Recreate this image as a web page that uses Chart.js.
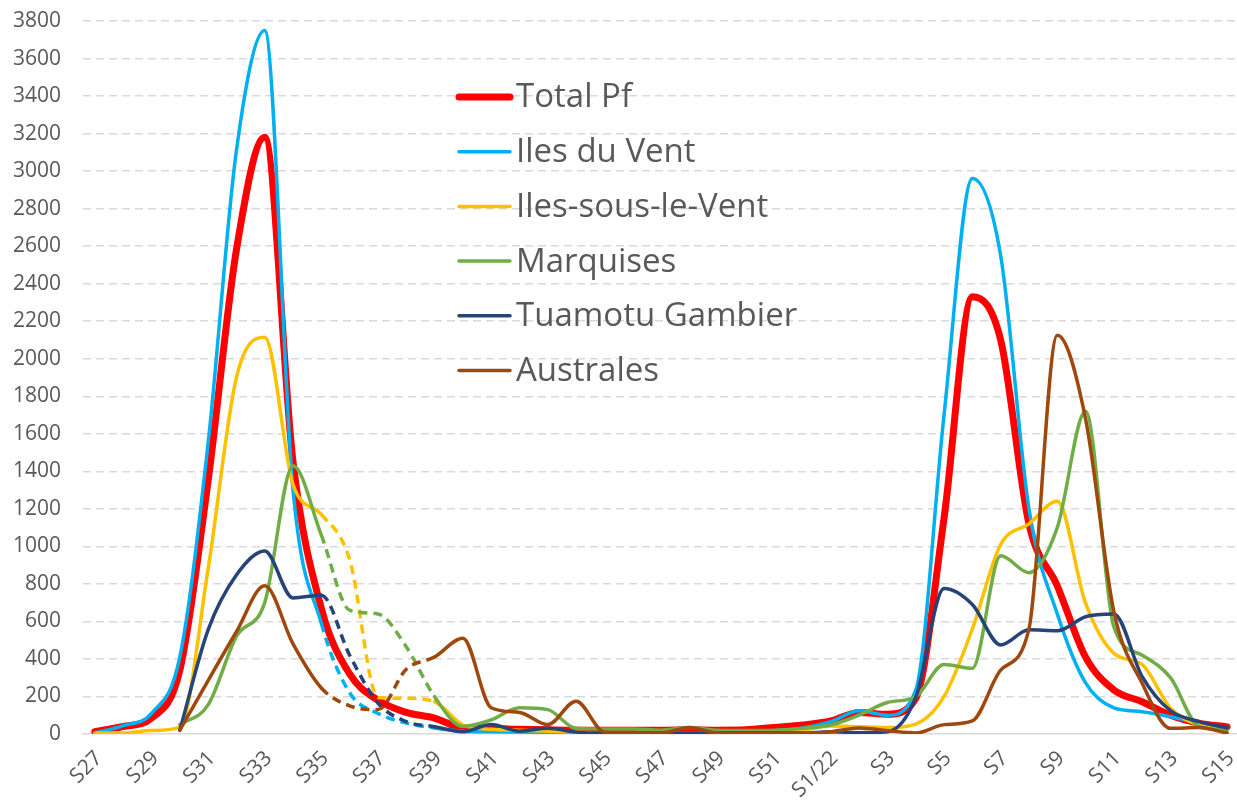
<!DOCTYPE html>
<html>
<head>
<meta charset="utf-8">
<script src="https://cdn.jsdelivr.net/npm/chart.js@4.4.1/dist/chart.umd.min.js"></script>
<style>
  html, body { margin: 0; padding: 0; background: #fff; }
  #wrap { width: 1237px; height: 800px; position: relative; }
</style>
</head>
<body>
<div id="wrap"><canvas id="casesChart"></canvas></div>
<script>
const weeks = ['S27','S28','S29','S30','S31','S32','S33','S34','S35','S36','S37','S38','S39','S40',
  'S41','S42','S43','S44','S45','S46','S47','S48','S49','S50','S51','S52',
  'S1/22','S2','S3','S4','S5','S6','S7','S8','S9','S10','S11','S12','S13','S14','S15'];

const xTickWeeks = ['S27','S29','S31','S33','S35','S37','S39','S41','S43','S45','S47','S49','S51',
  'S1/22','S3','S5','S7','S9','S11','S13','S15'];

const totalPf = [12, 40, 85, 340, 1350, 2580, 3180, 1450, 670, 320, 180, 115, 85, 32,
  30, 25, 22, 20, 20, 20, 20, 22, 20, 22, 35, 48,
  70, 115, 105, 190, 1150, 2330, 2100, 1120, 790, 410, 235, 172, 100, 58, 38];

const ilesDuVent = [5, 45, 110, 410, 1550, 3110, 3750, 1300, 590, 220, 110, 58, 32, 15,
  12, 10, 8, 6, 5, 5, 5, 5, 5, 8, 12, 32,
  66, 124, 100, 234, 1700, 2960, 2550, 1200, 640, 272, 139, 119, 92, 58, 32];

const ilesSousLeVent = [5, 5, 18, 35, 880, 1900, 2115, 1330, 1170, 930, 195, 190, 172, 48,
  25, 20, 15, 10, 5, 5, 5, 5, 5, 5, 10, 20,
  43, 39, 34, 53, 200, 560, 1010, 1120, 1240, 697, 430, 370, 138, 48, 20];

const marquises = [null, null, null, 50, 155, 520, 700, 1430, 1060, 660, 640, 465, 199, 40,
  75, 140, 130, 30, 27, 27, 20, 35, 20, 18, 20, 30,
  48, 101, 168, 199, 370, 350, 950, 860, 1100, 1720, 570, 420, 300, 40, 20];

const tuamotuGambier = [null, null, null, 20, 555, 847, 975, 725, 740, 420, 165, 66, 39, 12,
  50, 15, 30, 10, 5, 5, 5, 5, 5, 5, 5, 5,
  12, 7, 12, 195, 775, 690, 475, 555, 550, 625, 640, 306, 124, 66, 32];

const australes = [null, null, null, 20, 285, 545, 790, 480, 245, 150, 130, 345, 410, 510,
  140, 115, 50, 175, 10, 5, 5, 35, 5, 3, 3, 3,
  12, 32, 18, 5, 50, 70, 340, 560, 2125, 1680, 652, 270, 30, 35, 5];

// weeks S35 -> S39 drawn dashed on the regional series
const dashStart = weeks.indexOf('S35');
const dashEnd = weeks.indexOf('S39');

const toPoints = arr => arr.map((v, i) => ({ x: i, y: v }));
const inDash = ctx => ctx.p0DataIndex >= dashStart && ctx.p1DataIndex <= dashEnd;

function series(label, values, color, width, order, dashed) {
  return {
    label: label,
    data: toPoints(values),
    borderColor: color,
    backgroundColor: color,
    borderWidth: width,
    borderCapStyle: 'round',
    borderJoinStyle: 'round',
    pointRadius: 0,
    cubicInterpolationMode: 'monotone',
    fill: false,
    order: order,
    segment: dashed ? {
      borderDash: ctx => inDash(ctx) ? [9, 6] : undefined,
      borderCapStyle: ctx => inDash(ctx) ? 'butt' : undefined
    } : undefined
  };
}

const insideLegend = {
  id: 'insideLegend',
  afterDraw(chart) {
    const ctx = chart.ctx;
    ctx.save();
    ctx.font = '33px "Open Sans"';
    ctx.textBaseline = 'middle';
    chart.data.datasets.forEach((ds, i) => {
      const y = 97 + i * 54.7;
      ctx.strokeStyle = ds.borderColor;
      ctx.lineWidth = i === 0 ? 7 : 3.5;
      ctx.lineCap = 'round';
      ctx.setLineDash([]);
      ctx.beginPath();
      ctx.moveTo(459, y);
      ctx.lineTo(510, y);
      ctx.stroke();
      ctx.fillStyle = '#595959';
      ctx.fillText(ds.label, 516, y + 1);
    });
    ctx.restore();
  }
};

new Chart(document.getElementById('casesChart'), {
  type: 'line',
  data: {
    datasets: [
      series('Total Pf', totalPf, '#FF0000', 7, 6, false),
      series('Iles du Vent', ilesDuVent, '#00B0F0', 3.5, 5, true),
      series('Iles-sous-le-Vent', ilesSousLeVent, '#FFC000', 3.5, 4, true),
      series('Marquises', marquises, '#70AD47', 3.5, 3, true),
      series('Tuamotu Gambier', tuamotuGambier, '#264478', 3.5, 2, true),
      series('Australes', australes, '#9E480E', 3.5, 1, true)
    ]
  },
  options: {
    responsive: true,
    maintainAspectRatio: false,
    animation: false,
    layout: { padding: { top: 21, right: 0, left: 0, bottom: 0 } },
    plugins: {
      legend: { display: false },
      tooltip: { enabled: false }
    },
    scales: {
      x: {
        type: 'linear',
        min: -0.42,
        max: 40.35,
        grid: { display: false },
        border: { display: true, color: '#d9d9d9', width: 1.5 },
        afterBuildTicks: axis => {
          axis.ticks = xTickWeeks.map(w => ({ value: weeks.indexOf(w) }));
        },
        afterFit: scale => {
          scale.height = 66;
          scale.paddingLeft = 0;
          scale.paddingRight = 0;
        },
        ticks: {
          autoSkip: false,
          maxRotation: 45,
          minRotation: 45,
          padding: 4,
          labelOffset: 4,
          color: '#595959',
          font: { family: '"Open Sans"', size: 21 },
          callback: v => weeks[v]
        }
      },
      y: {
        min: 0,
        max: 3800,
        grid: {
          drawTicks: false,
          color: c => c.tick.value === 0 ? 'rgba(0,0,0,0)' : '#d9d9d9',
          lineWidth: 1.5
        },
        border: { display: false, dash: [8, 5] },
        afterFit: scale => {
          scale.width = 83;
          scale.paddingTop = 0;
          scale.paddingBottom = 0;
        },
        ticks: {
          stepSize: 200,
          padding: 22,
          color: '#595959',
          font: { family: '"Open Sans"', size: 21 },
          callback: v => String(v)
        }
      }
    }
  },
  plugins: [insideLegend]
});
</script>
</body>
</html>
